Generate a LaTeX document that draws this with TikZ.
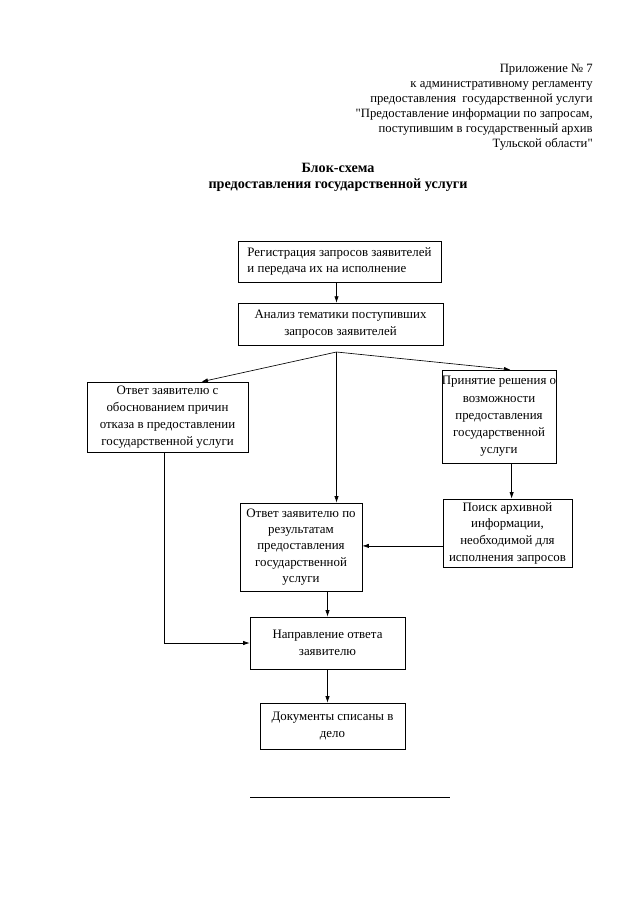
\documentclass[tikz,border=0pt]{standalone}
\usepackage{fontspec}
\setmainfont{Liberation Serif}[Ligatures=TeXOff]
\usetikzlibrary{arrows.meta,calc}

\begin{document}
\begin{tikzpicture}[x=0.9302pt,y=-0.9302pt,line width=0.6pt,>={Latex[length=6pt,width=4pt]},
  box/.style={draw,align=center,inner sep=2pt,font=\fontsize{12}{15.5}\selectfont}]

\useasboundingbox (0,0) rectangle (640,905);

\node[anchor=north east,align=right,inner sep=0pt,font=\fontsize{11.8}{14}\selectfont](app) at (593,63.5){Приложение № 7\\к административному регламенту\\предоставления\ \ государственной услуги\\"Предоставление информации по запросам,\\поступившим в государственный архив\\Тульской области"};
\node[anchor=north,align=center,inner sep=0pt,font=\bfseries\fontsize{13.2}{15}\selectfont](title) at (338,162.5){Блок-схема\\предоставления государственной услуги};

\node[box,align=left,minimum width=189pt,minimum height=38pt](1) at (339.5,261.5){Регистрация запросов заявителей\\и передача их на исполнение};
\node[box,minimum width=190.7pt,minimum height=39pt](2) at (340.5,324){Анализ тематики поступивших\\запросов заявителей};
\node[box,font=\fontsize{12}{16}\selectfont,minimum width=149.8pt,minimum height=65pt](3) at (167.5,417){Ответ заявителю с\\обоснованием причин\\отказа в предоставлении\\государственной услуги};
\node[box,font=\fontsize{12}{16}\selectfont,inner xsep=0pt,minimum width=104.2pt,minimum height=86.5pt](4) at (499,416.5){Принятие решения о\\возможности\\предоставления\\государственной\\услуги};
\node[box,minimum width=120pt,minimum height=63.3pt](5) at (507.5,533){Поиск архивной\\информации,\\необходимой для\\исполнения запросов};
\node[box,font=\fontsize{12}{15}\selectfont,minimum width=113.5pt,minimum height=81.9pt](6) at (301,547){Ответ заявителю по\\результатам\\предоставления\\государственной\\услуги};
\node[box,minimum width=144.2pt,minimum height=48.4pt](7) at (327.5,643){Направление ответа\\заявителю};
\node[box,minimum width=134.9pt,minimum height=42.8pt](8) at (332.5,726){Документы списаны в\\дело};

\coordinate (br) at (336.5,352);

\draw[->] (1.south -| br) -- (2.north -| br);
\draw[->] (br) -- ($(3.north west)!0.71!(3.north east)$);
\draw[->] (br) -- ($(4.north west)!0.6!(4.north east)$);
\draw[->] (br) -- (br |- 6.north);
\draw[->] ($(4.south west)!0.61!(4.south east)$) coordinate (d) -- (d |- 5.north);
\draw[->] ([yshift=-12pt]5.west) -- ([yshift=-12pt]5.west -| 6.east);
\draw[->] (6.south -| 7.north) -- (7.north);
\draw[->] ([xshift=-3pt]3.south) |- (7.west);
\draw[->] (7.south) -- (7.south |- 8.north);

\draw[line width=0.5pt] (250,797) -- (450,797);
\end{tikzpicture}
\end{document}
